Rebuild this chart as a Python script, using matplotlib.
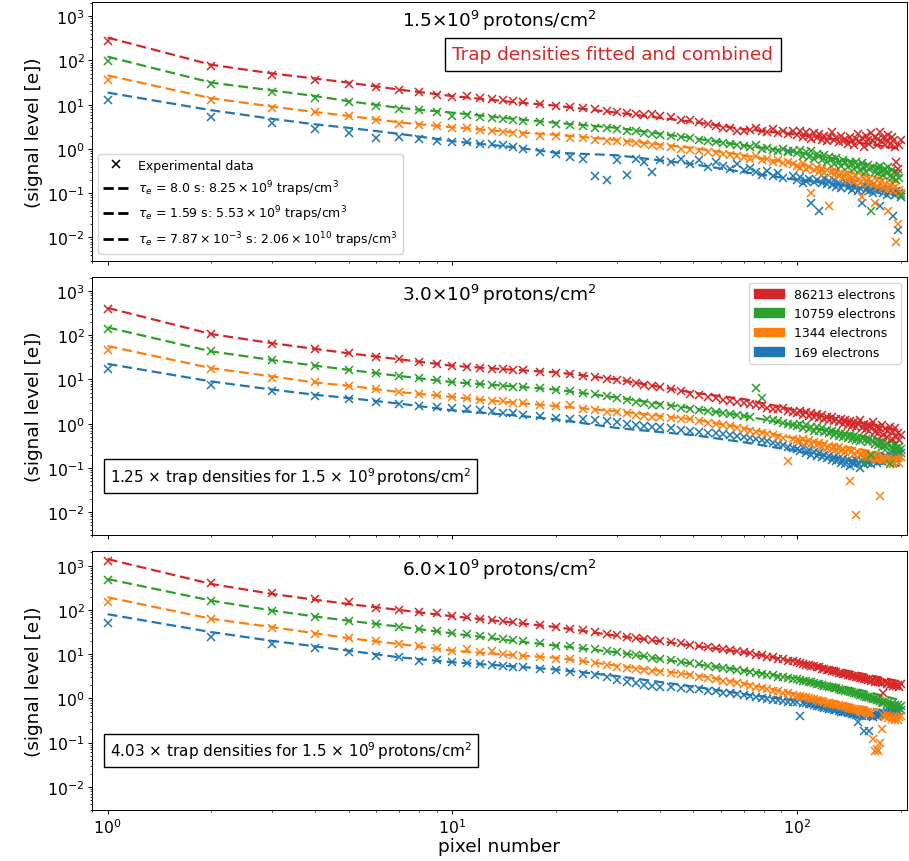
import matplotlib
matplotlib.use('Agg')
import matplotlib.pyplot as plt
from matplotlib.patches import Patch
from matplotlib.lines import Line2D

plt.rcParams['font.family'] = ['DejaVu Sans']
plt.rcParams['mathtext.fontset'] = 'dejavusans'
plt.rcParams['font.size'] = 11.3
plt.rcParams['axes.linewidth'] = 0.7
for ax_ in ('xtick', 'ytick'):
    plt.rcParams[ax_ + '.major.size'] = 2.6
    plt.rcParams[ax_ + '.minor.size'] = 1.5
    plt.rcParams[ax_ + '.major.width'] = 0.7
    plt.rcParams[ax_ + '.minor.width'] = 0.55
    plt.rcParams[ax_ + '.major.pad'] = 2.6
    plt.rcParams[ax_ + '.minor.pad'] = 2.6

# ---------------- data ----------------
PIXELS = (list(range(1, 17)) + list(range(18, 41, 2)) + list(range(43, 98, 3))
          + list(range(100, 201, 2)))
MODEL_PIXELS = [1, 2, 3, 4, 5, 7, 10, 15, 20, 30, 50, 70, 100, 150, 200]

SERIES_NAMES = ['86213 electrons', '10759 electrons', '1344 electrons', '169 electrons']
SERIES_COLORS = ['#d62728', '#2ca02c', '#ff7f0e', '#1f77b4']

PANEL_TITLES = [r'$1.5{\times}10^{9}\,$protons/cm$^{2}$',
                r'$3.0{\times}10^{9}\,$protons/cm$^{2}$',
                r'$6.0{\times}10^{9}\,$protons/cm$^{2}$']
PANEL_NOTES = [None,
               r'1.25 $\times$ trap densities for 1.5 $\times$ 10$^{9}\,$protons/cm$^{2}$',
               r'4.03 $\times$ trap densities for 1.5 $\times$ 10$^{9}\,$protons/cm$^{2}$']
FIT_NOTE = 'Trap densities fitted and combined'
TRAP_LABELS = ['Experimental data',
               r'$\tau_e$ = 8.0 s: $8.25\times10^{9}$ traps/cm$^{3}$',
               r'$\tau_e$ = 1.59 s: $5.53\times10^{9}$ traps/cm$^{3}$',
               r'$\tau_e$ = $7.87\times10^{-3}$ s: $2.06\times10^{10}$ traps/cm$^{3}$']

# ---- panel 1 (1.5e9) experimental ----
P1_RED = [275, 74, 48, 36, 30, 25, 21, 19.5, 17, 15.2, 15.5, 14, 13.2, 12.8, 12, 11.3,
          10.6, 9.6, 9.1, 8.4, 7.9, 7.1, 6.9, 6.5, 6.3, 5.9, 6.1, 5.6,
          5.3, 4.6, 4.4, 4.1, 3.7, 3.3, 3.0, 2.9, 2.6, 2.5,
          2.7, 2.9, 2.6, 2.4, 2.8, 2.3, 2.6, 2.2, 2.5,
          2.1, 2.5, 1.9, 2.4, 2.0, 1.7, 2.3, 1.8, 2.2, 1.6,
          2.0, 1.5, 1.9, 2.4, 1.6, 1.8, 1.4, 2.0, 1.5, 1.7,
          1.3, 1.9, 1.5, 1.2, 1.7, 2.2, 1.4, 1.8, 1.1, 2.0,
          1.6, 1.3, 2.3, 1.5, 1.9, 1.2, 1.7, 2.4, 1.4, 1.8,
          1.2, 1.6, 2.1, 1.3, 1.9, 1.5, 1.1, 0.5, 0.35, 1.2,
          1.6]
P1_GREEN = [97, 30, 19, 14.5, 11.3, 9.4, 8.2, 7.5, 6.8, 5.6, 5.8, 5.3, 5.0, 4.8, 4.5, 4.3,
            4.0, 3.7, 3.4, 3.3, 3.0, 2.9, 2.8, 2.6, 2.5, 2.3, 2.2, 2.1,
            2.0, 1.85, 1.75, 1.6, 1.55, 1.45, 1.35, 1.3, 1.2, 1.15,
            1.1, 1.2, 1.0, 1.05, 0.95, 0.9, 1.0, 0.85, 0.9,
            0.8, 0.95, 0.7, 0.85, 0.65, 0.9, 0.6, 0.75, 0.68, 0.55,
            0.72, 0.5, 0.65, 0.58, 0.45, 0.62, 0.5, 0.42, 0.56, 0.48,
            0.4, 0.52, 0.45, 0.36, 0.5, 0.42, 0.33, 0.47, 0.38, 0.3,
            0.44, 0.35, 0.04, 0.4, 0.3, 0.37, 0.28, 0.42, 0.32, 0.26,
            0.36, 0.29, 0.4, 0.25, 0.33, 0.23, 0.3, 0.2, 0.28, 0.22,
            0.09]
P1_ORANGE = [36, 13, 8.3, 6.8, 5.5, 4.6, 3.7, 3.4, 3.3, 3.0, 2.9, 2.7, 2.5, 2.4, 2.3, 2.2,
             2.0, 1.95, 1.8, 1.75, 1.6, 1.55, 1.5, 1.4, 1.35, 1.3, 1.2, 1.15,
             1.1, 1.0, 0.95, 0.9, 0.85, 0.8, 0.75, 0.72, 0.68, 0.65,
             0.6, 0.7, 0.55, 0.58, 0.5, 0.55, 0.47, 0.5, 0.45,
             0.42, 0.38, 0.47, 0.35, 0.4, 0.1, 0.33, 0.38, 0.3, 0.35,
             0.28, 0.33, 0.05, 0.3, 0.26, 0.32, 0.24, 0.28, 0.22, 0.27,
             0.2, 0.25, 0.22, 0.18, 0.24, 0.2, 0.17, 0.08, 0.22, 0.19,
             0.16, 0.21, 0.18, 0.15, 0.06, 0.2, 0.14, 0.17, 0.19, 0.13,
             0.16, 0.12, 0.04, 0.15, 0.17, 0.11, 0.14, 0.008, 0.02, 0.12,
             0.1]
P1_BLUE = [12.6, 5.4, 3.9, 2.8, 2.3, 1.8, 1.9, 1.7, 1.5, 1.45, 1.4, 1.3, 1.3, 1.2, 1.1, 1.0,
           0.85, 0.75, 0.65, 0.6, 0.25, 0.2, 0.55, 0.26, 0.6, 0.5, 0.3, 0.55,
           0.5, 0.6, 0.45, 0.55, 0.4, 0.5, 0.42, 0.35, 0.45, 0.33,
           0.38, 0.3, 0.26, 0.32, 0.25, 0.28, 0.22, 0.9, 0.25,
           0.2, 0.23, 0.17, 0.19, 0.21, 0.06, 0.18, 0.2, 0.04, 0.17,
           0.22, 0.16, 0.19, 0.15, 0.2, 0.14, 0.17, 0.13, 0.16, 0.18,
           0.13, 0.15, 0.12, 0.16, 0.14, 0.11, 0.13, 0.06, 0.15, 0.12,
           0.14, 0.11, 0.13, 0.1, 0.12, 0.14, 0.11, 0.05, 0.12, 0.1,
           0.11, 0.09, 0.13, 0.1, 0.12, 0.03, 0.09, 0.11, 0.015, 0.1,
           0.08]

# ---- panel 2 (3.0e9) experimental ----
P2_RED = [400, 105, 64, 50, 40, 32, 28.5, 25, 22.5, 20.5, 19.5, 18.5, 17.5, 17, 16.5, 16,
          15, 14, 13, 12, 11.3, 10.5, 9.8, 9.0, 8.3, 7.6, 7.0, 6.6,
          6.0, 5.4, 4.8, 4.4, 4.1, 3.8, 3.5, 3.3, 3.1, 2.9,
          2.8, 2.6, 2.5, 2.3, 2.2, 2.1, 2.3, 1.9, 1.8,
          1.75, 1.9, 1.6, 1.8, 1.5, 1.7, 1.4, 1.65, 1.35, 1.55,
          1.3, 1.45, 1.2, 1.4, 1.15, 1.3, 1.1, 1.25, 1.0, 1.2,
          0.95, 1.15, 0.9, 1.1, 0.85, 1.05, 1.2, 0.8, 1.0, 0.75,
          0.95, 0.7, 0.9, 1.1, 0.65, 0.85, 0.6, 0.8, 0.95, 0.55,
          0.75, 0.5, 0.7, 0.85, 0.45, 0.65, 0.8, 0.5, 0.6, 0.42,
          0.55]
P2_GREEN = [135, 43, 27, 20, 16, 13.8, 12, 11, 9.7, 8.7, 8.3, 7.9, 7.5, 7.2, 6.9, 6.6,
            6.3, 5.9, 5.4, 5.0, 4.6, 4.2, 3.8, 3.5, 3.1, 2.9, 2.7, 2.6,
            2.5, 2.3, 2.15, 2.0, 1.9, 1.8, 1.75, 1.65, 1.55, 1.5,
            1.4, 6.3, 3.8, 1.3, 1.2, 1.15, 1.05, 1.0, 0.95,
            0.9, 1.0, 0.8, 0.95, 0.75, 0.85, 0.7, 0.82, 0.68, 0.78,
            0.65, 0.72, 0.6, 0.7, 0.56, 0.64, 0.52, 0.6, 0.5, 0.58,
            0.48, 0.55, 0.45, 0.52, 0.42, 0.5, 0.4, 0.47, 0.12, 0.44,
            0.38, 0.45, 0.2, 0.4, 0.35, 0.42, 0.33, 0.38, 0.3, 0.36,
            0.32, 0.28, 0.35, 0.12, 0.3, 0.26, 0.33, 0.28, 0.24, 0.3,
            0.27]
P2_ORANGE = [46, 17, 11, 8.8, 7.2, 6.1, 5.1, 4.7, 4.5, 4.0, 3.8, 3.5, 3.3, 3.2, 3.0, 2.9,
             2.7, 2.5, 2.6, 2.2, 2.0, 1.85, 1.8, 1.7, 1.55, 1.5, 1.45, 1.4,
             1.35, 1.3, 1.25, 1.15, 1.05, 1.0, 0.95, 0.88, 0.8, 0.75,
             0.7, 0.66, 0.62, 0.58, 0.55, 0.5, 0.48, 0.14, 0.45,
             0.43, 0.4, 0.46, 0.37, 0.42, 0.35, 0.39, 0.33, 0.37, 0.3,
             0.34, 0.28, 0.32, 0.27, 0.3, 0.25, 0.29, 0.24, 0.27, 0.23,
             0.26, 0.05, 0.24, 0.21, 0.0085, 0.23, 0.2, 0.22, 0.19, 0.21,
             0.18, 0.2, 0.17, 0.19, 0.16, 0.18, 0.15, 0.023, 0.17, 0.15,
             0.16, 0.14, 0.17, 0.13, 0.15, 0.12, 0.16, 0.14, 0.17, 0.13,
             0.18]
P2_BLUE = [17, 7.6, 5.4, 4.2, 3.6, 3.1, 2.85, 2.45, 2.4, 2.3, 2.1, 2.0, 1.9, 1.75, 1.7, 1.6,
           1.5, 1.35, 1.3, 1.25, 1.2, 1.15, 1.1, 1.0, 0.95, 0.9, 0.85, 0.82,
           0.78, 0.72, 0.68, 0.65, 0.62, 0.6, 0.57, 0.55, 0.52, 0.5,
           0.47, 0.44, 0.42, 0.4, 0.37, 0.35, 0.33, 0.3, 0.28,
           0.27, 0.24, 0.29, 0.22, 0.25, 0.2, 0.23, 0.19, 0.22, 0.18,
           0.2, 0.17, 0.19, 0.15, 0.18, 0.14, 0.17, 0.13, 0.16, 0.12,
           0.15, 0.11, 0.14, 0.12, 0.15, 0.13, 0.1, 0.14, 0.12, 0.15,
           0.13, 0.16, 0.12, 0.14, 0.17, 0.13, 0.15, 0.18, 0.14, 0.16,
           0.19, 0.15, 0.17, 0.2, 0.16, 0.18, 0.21, 0.17, 0.2, 0.23,
           0.22]

# ---- panel 3 (6.0e9) experimental ----
P3_RED = [1300, 410, 240, 175, 148, 112, 100, 91, 84, 72, 70, 64, 60, 56, 52, 50,
          45, 41, 38, 35, 32, 29, 27, 25, 23.5, 22, 21, 20,
          19, 17.5, 16.5, 15.5, 14.5, 13.7, 13, 12.3, 11.6, 11,
          10.6, 9.6, 9.5, 8.6, 8.5, 7.7, 7.6, 7.0, 6.9,
          6.5, 6.3, 6.1, 5.8, 5.7, 5.4, 5.3, 5.0, 5.0, 4.7,
          4.6, 4.4, 4.4, 4.1, 4.1, 3.9, 3.8, 3.7, 3.6, 3.5,
          3.4, 3.4, 3.2, 3.2, 3.0, 3.0, 2.9, 2.9, 2.7, 2.8,
          2.6, 2.7, 2.5, 2.6, 2.4, 2.5, 2.3, 2.4, 2.2, 1.3,
          2.3, 2.1, 2.2, 2.0, 2.1, 1.9, 2.1, 1.9, 2.0, 1.8,
          2.1]
P3_GREEN = [475, 160, 95, 70, 57, 48, 42, 37, 34, 29.5, 28, 26, 24, 22, 21, 20,
            17.5, 15.6, 15, 14, 13, 12, 11, 10.2, 9.5, 8.9, 8.3, 7.8,
            7.3, 6.8, 6.3, 5.9, 5.5, 5.2, 4.9, 4.6, 4.4, 4.2,
            4.0, 3.8, 3.6, 3.4, 3.3, 3.1, 3.0, 2.9, 2.8,
            2.7, 2.6, 2.5, 2.5, 2.35, 2.3, 2.2, 2.15, 2.1, 2.0,
            1.95, 1.9, 1.85, 1.8, 1.75, 1.68, 1.65, 1.58, 1.55, 1.5,
            1.45, 1.42, 1.38, 1.33, 1.3, 1.25, 1.22, 1.18, 1.15, 1.1,
            1.08, 1.05, 1.0, 0.98, 0.95, 0.92, 0.9, 0.86, 0.85, 0.8,
            0.82, 0.76, 0.8, 0.72, 0.76, 0.68, 0.72, 0.64, 0.7, 0.62,
            0.68]
P3_ORANGE = [148, 62, 39, 29, 23, 20, 17, 15, 14, 12, 13, 11, 11.5, 10, 9.5, 9.2,
             8.5, 7.9, 7.6, 7.0, 6.3, 5.8, 5.2, 4.9, 4.6, 4.3, 4.1, 3.9,
             3.7, 3.5, 3.3, 3.1, 2.9, 2.7, 2.5, 2.35, 2.2, 2.1,
             1.95, 1.85, 1.7, 1.6, 1.5, 1.45, 1.35, 1.3, 1.2,
             1.15, 1.12, 1.08, 1.05, 1.0, 0.98, 0.95, 0.92, 0.88, 0.86,
             0.83, 0.8, 0.78, 0.76, 0.73, 0.71, 0.7, 0.67, 0.66, 0.64,
             0.62, 0.6, 0.59, 0.57, 0.56, 0.54, 0.53, 0.5, 0.52, 0.48,
             0.49, 0.45, 0.47, 0.12, 0.065, 0.07, 0.065, 0.1, 0.2, 0.42,
             0.38, 0.42, 0.36, 0.4, 0.34, 0.38, 0.33, 0.36, 0.32, 0.38,
             0.4]
P3_BLUE = [51, 24, 17, 13.6, 11, 9.3, 8.5, 7.1, 7.2, 6.6, 6.3, 6.0, 5.6, 5.5, 5.1, 5.0,
           4.6, 4.3, 4.0, 3.6, 3.3, 3.0, 2.6, 2.4, 2.2, 2.05, 1.95, 1.85,
           1.8, 1.7, 1.65, 1.6, 1.5, 1.45, 1.35, 1.3, 1.25, 1.18,
           1.12, 1.07, 1.0, 0.97, 0.93, 0.9, 0.87, 0.85, 0.83,
           0.83, 0.4, 0.8, 0.77, 0.75, 0.73, 0.7, 0.68, 0.66, 0.64,
           0.62, 0.6, 0.58, 0.57, 0.55, 0.54, 0.52, 0.5, 0.49, 0.48,
           0.47, 0.46, 0.45, 0.44, 0.43, 0.3, 0.42, 0.41, 0.18, 0.4,
           0.42, 0.18, 0.4, 0.38, 0.42, 0.4, 0.44, 0.42, 0.45, 0.47,
           0.44, 0.5, 0.46, 0.52, 0.48, 0.55, 0.5, 0.58, 0.52, 0.6,
           0.55]

# ---- fitted model curves ----
P1_RED_MODEL = [330, 80, 51, 39, 31.6, 22, 15.7, 11.5, 9.5, 6.6, 4.1, 2.8, 2.1, 1.4, 1.0]
P1_GREEN_MODEL = [122, 31.6, 21, 15.7, 12, 8.5, 6.6, 4.8, 3.9, 3.0, 1.75, 1.2, 0.85, 0.5, 0.3]
P1_ORANGE_MODEL = [46, 14, 9.1, 6.8, 5.6, 4.0, 3.1, 2.4, 2.1, 1.6, 1.05, 0.72, 0.45, 0.28, 0.17]
P1_BLUE_MODEL = [18.8, 7.5, 4.8, 3.6, 3.0, 2.2, 1.5, 1.1, 0.82, 0.72, 0.45, 0.3, 0.2, 0.14, 0.11]

P2_RED_MODEL = [415, 106, 66, 49, 39, 28.6, 20.4, 16.5, 14.5, 10, 5.0, 3.6, 2.0, 1.05, 0.7]
P2_GREEN_MODEL = [150, 43, 27.5, 20.5, 16.5, 12, 8.7, 7, 5.9, 3.9, 2.2, 1.5, 0.9, 0.55, 0.35]
P2_ORANGE_MODEL = [57, 18, 11.7, 8.5, 7.2, 5.2, 4.0, 3.0, 2.5, 1.9, 1.25, 0.8, 0.45, 0.27, 0.18]
P2_BLUE_MODEL = [22.5, 9, 5.9, 4.5, 3.8, 2.85, 2.0, 1.55, 1.25, 0.8, 0.55, 0.38, 0.24, 0.14, 0.11]

P3_RED_MODEL = [1410, 386, 230, 170, 136, 100, 72, 52, 41, 26, 15.6, 11, 6.8, 3.8, 2.4]
P3_GREEN_MODEL = [500, 162, 97, 71, 57, 42, 29.5, 20, 15.6, 11, 6.0, 4.3, 2.8, 1.6, 0.9]
P3_ORANGE_MODEL = [194, 63, 41, 29.5, 23, 17, 12, 9.5, 8.3, 5.5, 3.4, 2.2, 1.25, 0.68, 0.45]
P3_BLUE_MODEL = [80, 31.5, 20, 15, 12, 8.5, 6.6, 5.3, 4.5, 3.2, 1.85, 1.25, 0.9, 0.52, 0.4]

PANELS = [
    ([P1_RED, P1_GREEN, P1_ORANGE, P1_BLUE],
     [P1_RED_MODEL, P1_GREEN_MODEL, P1_ORANGE_MODEL, P1_BLUE_MODEL]),
    ([P2_RED, P2_GREEN, P2_ORANGE, P2_BLUE],
     [P2_RED_MODEL, P2_GREEN_MODEL, P2_ORANGE_MODEL, P2_BLUE_MODEL]),
    ([P3_RED, P3_GREEN, P3_ORANGE, P3_BLUE],
     [P3_RED_MODEL, P3_GREEN_MODEL, P3_ORANGE_MODEL, P3_BLUE_MODEL]),
]

# ---------------- figure ----------------
fig, axes = plt.subplots(3, 1, figsize=(9.09, 8.62), dpi=100, sharex=True)
fig.subplots_adjust(left=0.101, right=0.998, top=0.9965, bottom=0.0592, hspace=0.0627)

DASH = (0, (4.5, 2.2))
BIG = 13.3

for i, ax in enumerate(axes):
    data, models = PANELS[i]
    for k in [3, 2, 1, 0]:
        col = SERIES_COLORS[k]
        ax.plot(MODEL_PIXELS, models[k], color=col, lw=1.6, linestyle=DASH, zorder=2)
        ax.plot(PIXELS[:len(data[k])], data[k], color=col, marker='x', ls='none',
                ms=5.8, mew=1.1, zorder=3)
    ax.set_xscale('log')
    ax.set_yscale('log')
    ax.set_xlim(0.9, 208.5)
    ax.set_ylim(3e-3, 2.1e3)
    ax.set_ylabel('(signal level [e])', fontsize=BIG, labelpad=3)
    ax.text(0.5, 0.932, PANEL_TITLES[i], transform=ax.transAxes, ha='center', va='center',
            fontsize=BIG)
    if PANEL_NOTES[i] is not None:
        ax.text(0.022, 0.23, PANEL_NOTES[i], transform=ax.transAxes, ha='left', va='center',
                fontsize=11,
                bbox=dict(boxstyle='square,pad=0.4', facecolor='white', edgecolor='black', lw=1))

axes[0].text(0.639, 0.798, FIT_NOTE, transform=axes[0].transAxes, ha='center', va='center',
             fontsize=BIG, color='#d62728',
             bbox=dict(boxstyle='square,pad=0.4', facecolor='white', edgecolor='black', lw=1))

trap_handles = [Line2D([], [], color='k', marker='x', ls='none', ms=5.8, mew=1.1)]
trap_handles += [Line2D([], [], color='k', ls='--', lw=2) for _ in range(3)]
axes[0].legend(trap_handles, TRAP_LABELS, loc='lower left', fontsize=9)

elec_handles = [Patch(facecolor=c, edgecolor=c) for c in SERIES_COLORS]
axes[1].legend(elec_handles, SERIES_NAMES, loc='upper right', fontsize=9, handlelength=2.4)

axes[2].set_xlabel('pixel number', fontsize=BIG, labelpad=1)

fig.savefig('out.png', dpi=100)
